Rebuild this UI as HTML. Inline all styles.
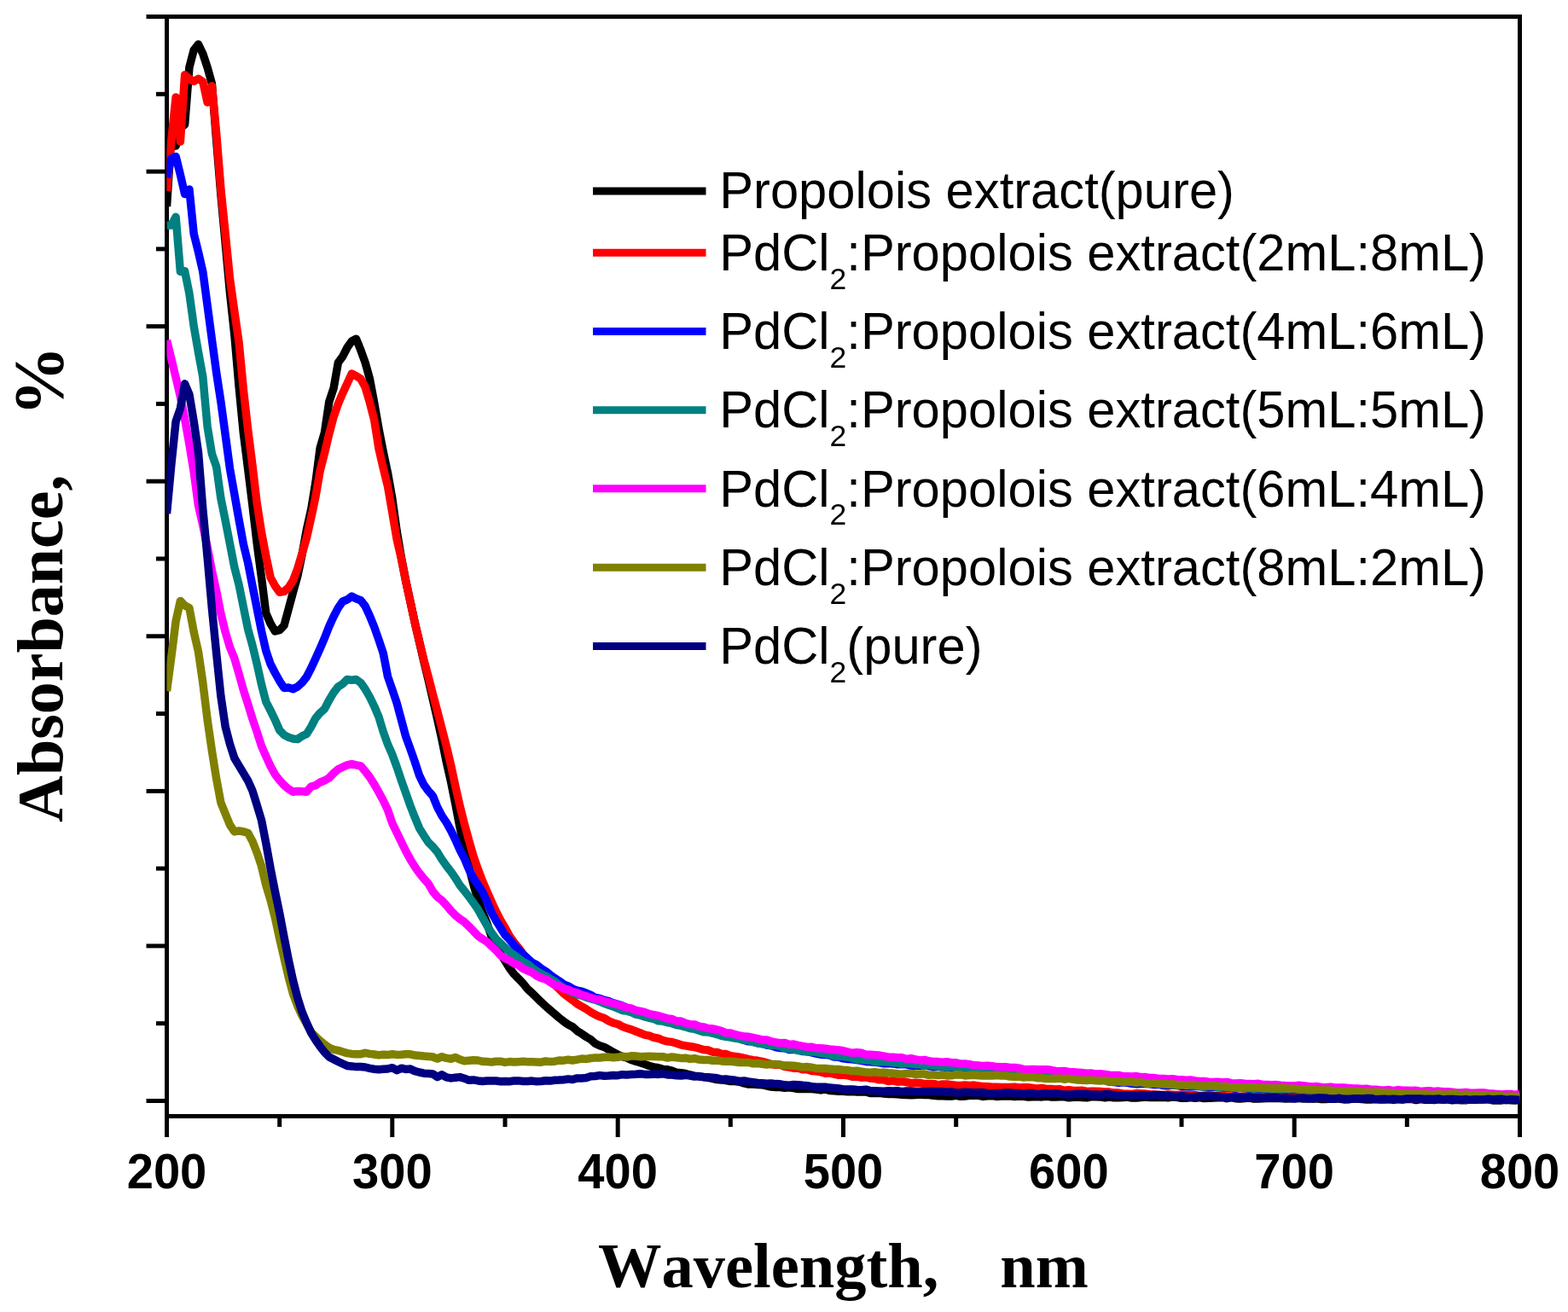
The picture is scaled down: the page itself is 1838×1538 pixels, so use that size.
<!DOCTYPE html>
<html lang="en"><head><meta charset="utf-8"><title>UV-Vis absorbance spectra</title>
<style>
html,body{margin:0;padding:0;background:#fff;}
body{width:1838px;height:1538px;overflow:hidden;}
svg{display:block;}
.tick{font-family:"Liberation Sans",Arial,sans-serif;font-weight:bold;font-size:57px;fill:#000;text-anchor:middle;}
.leg{font-family:"Liberation Sans",Arial,sans-serif;font-size:59.7px;fill:#000;}
.sub{font-size:35.5px;}
.ttl{font-family:"Liberation Serif","Times New Roman",serif;font-weight:bold;font-size:76px;fill:#000;}
</style></head><body>
<svg width="1838" height="1538" viewBox="0 0 1838 1538">
<rect width="1838" height="1538" fill="#fff"/>
<g stroke="#000" stroke-width="5" fill="none" stroke-linecap="butt">
<path d="M171.5,19.5 H1781.5"/>
<path d="M195.5,17 V1333"/>
<path d="M1781.5,17 V1333"/>
<path d="M193,1308.5 H1784"/>
<path d="M171.5,201.1 H195.5"/>
<path d="M171.5,382.6 H195.5"/>
<path d="M171.5,564.2 H195.5"/>
<path d="M171.5,745.8 H195.5"/>
<path d="M171.5,927.4 H195.5"/>
<path d="M171.5,1108.9 H195.5"/>
<path d="M171.5,1290.5 H195.5"/>
<path d="M183,110.3 H195.5"/>
<path d="M183,291.9 H195.5"/>
<path d="M183,473.4 H195.5"/>
<path d="M183,655.0 H195.5"/>
<path d="M183,836.6 H195.5"/>
<path d="M183,1018.1 H195.5"/>
<path d="M183,1199.7 H195.5"/>
<path d="M459.8,1308.5 V1333"/>
<path d="M724.2,1308.5 V1333"/>
<path d="M988.5,1308.5 V1333"/>
<path d="M1252.8,1308.5 V1333"/>
<path d="M1517.2,1308.5 V1333"/>
<path d="M327.7,1308.5 V1321"/>
<path d="M592.0,1308.5 V1321"/>
<path d="M856.3,1308.5 V1321"/>
<path d="M1120.7,1308.5 V1321"/>
<path d="M1385.0,1308.5 V1321"/>
<path d="M1649.3,1308.5 V1321"/>
</g>
<defs><clipPath id="plot"><rect x="195.5" y="19.5" width="1586" height="1289"/></clipPath></defs>
<g fill="none" stroke-width="9.5" stroke-linejoin="round" stroke-linecap="butt" clip-path="url(#plot)">
<path stroke="#000000" d="M195.5,242.0 L200.8,160.0 L206.1,171.0 L211.4,150.0 L216.6,146.0 L221.9,79.0 L227.2,58.6 L232.5,52.0 L237.8,63.0 L243.1,79.0 L248.4,98.0 L253.7,165.0 L258.9,228.0 L264.2,285.0 L269.5,343.0 L274.8,392.0 L280.1,453.0 L285.4,508.0 L290.7,550.0 L295.9,592.0 L301.2,637.0 L306.5,677.0 L311.8,719.0 L317.1,731.0 L322.4,740.0 L327.7,738.7 L333.0,733.2 L338.2,714.0 L343.5,694.2 L348.8,675.2 L354.1,650.0 L359.4,621.0 L364.7,597.4 L370.0,565.0 L375.2,525.0 L380.5,507.0 L385.8,471.0 L391.1,455.0 L396.4,425.0 L401.7,417.9 L407.0,407.5 L412.3,399.9 L417.5,397.2 L422.8,410.3 L428.1,425.0 L433.4,444.0 L438.7,472.3 L444.0,502.8 L449.3,530.0 L454.5,554.4 L459.8,584.3 L465.1,622.4 L470.4,653.7 L475.7,681.0 L481.0,705.5 L486.3,729.9 L491.6,752.6 L496.8,775.1 L502.1,796.9 L507.4,820.0 L512.7,843.0 L518.0,867.1 L523.3,893.3 L528.6,916.5 L533.8,942.3 L539.1,970.0 L544.4,993.9 L549.7,1016.4 L555.0,1036.8 L560.3,1054.9 L565.6,1069.3 L570.9,1082.6 L576.1,1097.6 L581.4,1110.0 L586.7,1118.3 L592.0,1126.3 L597.3,1135.1 L602.6,1142.0 L607.9,1147.3 L613.1,1152.8 L618.4,1159.4 L623.7,1164.1 L629.0,1169.3 L634.3,1174.6 L639.6,1179.5 L644.9,1184.1 L650.2,1188.6 L655.4,1193.1 L660.7,1197.3 L666.0,1201.0 L671.3,1203.8 L676.6,1208.6 L681.9,1211.8 L687.2,1215.5 L692.4,1218.5 L697.7,1223.2 L703.0,1225.7 L708.3,1227.4 L713.6,1230.4 L718.9,1233.6 L724.2,1236.3 L729.5,1238.6 L734.7,1239.9 L740.0,1242.5 L745.3,1244.2 L750.6,1245.7 L755.9,1247.6 L761.2,1249.5 L766.5,1250.9 L771.7,1251.8 L777.0,1253.4 L782.3,1253.8 L787.6,1255.2 L792.9,1257.1 L798.2,1257.7 L803.5,1258.5 L808.8,1260.0 L814.0,1261.1 L819.3,1261.9 L824.6,1262.4 L829.9,1263.4 L835.2,1264.3 L840.5,1265.5 L845.8,1265.9 L851.0,1266.6 L856.3,1267.5 L861.6,1267.5 L866.9,1268.3 L872.2,1269.9 L877.5,1271.0 L882.8,1271.1 L888.1,1271.5 L893.3,1271.7 L898.6,1272.8 L903.9,1274.1 L909.2,1274.4 L914.5,1274.5 L919.8,1275.3 L925.1,1274.8 L930.3,1275.6 L935.6,1276.6 L940.9,1276.4 L946.2,1276.5 L951.5,1276.5 L956.8,1277.1 L962.1,1277.9 L967.4,1276.9 L972.6,1278.4 L977.9,1278.8 L983.2,1279.2 L988.5,1279.3 L993.8,1279.7 L999.1,1279.6 L1004.4,1280.0 L1009.6,1280.1 L1014.9,1279.9 L1020.2,1281.4 L1025.5,1281.4 L1030.8,1281.3 L1036.1,1282.1 L1041.4,1282.5 L1046.7,1282.5 L1051.9,1282.7 L1057.2,1283.2 L1062.5,1283.5 L1067.8,1283.7 L1073.1,1283.6 L1078.4,1283.1 L1083.7,1283.5 L1088.9,1283.6 L1094.2,1284.3 L1099.5,1284.8 L1104.8,1284.8 L1110.1,1284.9 L1115.4,1285.0 L1120.7,1284.3 L1126.0,1285.2 L1131.2,1285.0 L1136.5,1284.3 L1141.8,1284.2 L1147.1,1284.3 L1152.4,1285.4 L1157.7,1284.8 L1163.0,1284.6 L1168.2,1285.4 L1173.5,1285.1 L1178.8,1284.8 L1184.1,1284.9 L1189.4,1285.5 L1194.7,1285.1 L1200.0,1285.3 L1205.3,1286.0 L1210.5,1285.7 L1215.8,1285.6 L1221.1,1285.9 L1226.4,1285.3 L1231.7,1285.9 L1237.0,1286.0 L1242.3,1285.7 L1247.5,1285.6 L1252.8,1286.8 L1258.1,1286.2 L1263.4,1285.9 L1268.7,1286.4 L1274.0,1286.8 L1279.3,1285.7 L1284.6,1285.7 L1289.8,1285.9 L1295.1,1286.7 L1300.4,1286.0 L1305.7,1286.8 L1311.0,1286.7 L1316.3,1286.5 L1321.6,1286.1 L1326.8,1287.1 L1332.1,1286.9 L1337.4,1286.5 L1342.7,1286.0 L1348.0,1286.6 L1353.3,1286.3 L1358.6,1286.5 L1363.9,1286.2 L1369.1,1286.7 L1374.4,1285.9 L1379.7,1286.3 L1385.0,1287.3 L1390.3,1287.2 L1395.6,1286.5 L1400.9,1287.3 L1406.1,1286.6 L1411.4,1287.5 L1416.7,1287.3 L1422.0,1286.9 L1427.3,1286.7 L1432.6,1286.4 L1437.9,1287.7 L1443.2,1286.6 L1448.4,1287.7 L1453.7,1287.9 L1459.0,1287.4 L1464.3,1286.9 L1469.6,1288.0 L1474.9,1288.1 L1480.2,1287.8 L1485.4,1287.6 L1490.7,1287.4 L1496.0,1287.4 L1501.3,1287.3 L1506.6,1288.0 L1511.9,1287.7 L1517.2,1287.4 L1522.5,1287.3 L1527.7,1288.1 L1533.0,1287.6 L1538.3,1288.0 L1543.6,1287.8 L1548.9,1288.6 L1554.2,1288.6 L1559.5,1287.4 L1564.7,1287.7 L1570.0,1288.0 L1575.3,1288.9 L1580.6,1288.7 L1585.9,1288.1 L1591.2,1288.0 L1596.5,1288.6 L1601.8,1288.9 L1607.0,1289.1 L1612.3,1288.3 L1617.6,1289.1 L1622.9,1288.9 L1628.2,1288.6 L1633.5,1289.4 L1638.8,1288.3 L1644.0,1289.1 L1649.3,1288.2 L1654.6,1288.4 L1659.9,1289.5 L1665.2,1288.5 L1670.5,1289.3 L1675.8,1289.1 L1681.1,1289.5 L1686.3,1288.9 L1691.6,1288.9 L1696.9,1288.8 L1702.2,1289.7 L1707.5,1289.3 L1712.8,1289.8 L1718.1,1289.8 L1723.3,1288.8 L1728.6,1289.4 L1733.9,1288.8 L1739.2,1288.7 L1744.5,1288.8 L1749.8,1289.9 L1755.1,1289.9 L1760.4,1289.9 L1765.6,1289.3 L1770.9,1289.7 L1776.2,1290.0 L1781.5,1289.4"/>
<path stroke="#ff0000" d="M195.5,224.0 L200.8,165.0 L206.1,114.0 L211.4,166.0 L216.6,87.8 L221.9,92.4 L227.2,95.3 L232.5,92.4 L237.8,95.7 L243.1,120.0 L248.4,100.8 L253.7,157.0 L258.9,222.0 L264.2,274.0 L269.5,327.0 L274.8,365.0 L280.1,401.5 L285.4,457.0 L290.7,504.0 L295.9,545.0 L301.2,590.0 L306.5,624.0 L311.8,652.0 L317.1,677.0 L322.4,686.7 L327.7,694.2 L333.0,693.3 L338.2,688.8 L343.5,680.6 L348.8,666.3 L354.1,649.0 L359.4,630.6 L364.7,607.0 L370.0,582.0 L375.2,551.7 L380.5,531.0 L385.8,508.7 L391.1,488.6 L396.4,473.4 L401.7,460.9 L407.0,449.4 L412.3,438.0 L417.5,440.7 L422.8,444.0 L428.1,453.8 L433.4,471.7 L438.7,492.4 L444.0,526.0 L449.3,549.0 L454.5,570.0 L459.8,600.7 L465.1,632.0 L470.4,655.0 L475.7,681.5 L481.0,705.5 L486.3,730.1 L491.6,752.1 L496.8,773.4 L502.1,793.2 L507.4,814.0 L512.7,833.7 L518.0,854.2 L523.3,874.8 L528.6,897.1 L533.8,921.6 L539.1,944.7 L544.4,965.9 L549.7,985.3 L555.0,1003.7 L560.3,1019.0 L565.6,1033.0 L570.9,1045.2 L576.1,1056.9 L581.4,1068.4 L586.7,1078.7 L592.0,1087.4 L597.3,1097.2 L602.6,1104.7 L607.9,1111.2 L613.1,1118.1 L618.4,1125.5 L623.7,1131.2 L629.0,1137.4 L634.3,1142.4 L639.6,1146.8 L644.9,1151.1 L650.2,1154.5 L655.4,1159.4 L660.7,1164.7 L666.0,1168.7 L671.3,1172.6 L676.6,1176.8 L681.9,1179.8 L687.2,1182.9 L692.4,1186.4 L697.7,1189.4 L703.0,1191.8 L708.3,1193.6 L713.6,1196.9 L718.9,1199.2 L724.2,1200.5 L729.5,1203.4 L734.7,1205.3 L740.0,1206.9 L745.3,1209.0 L750.6,1211.0 L755.9,1213.2 L761.2,1214.2 L766.5,1216.3 L771.7,1217.2 L777.0,1219.5 L782.3,1220.9 L787.6,1221.5 L792.9,1223.0 L798.2,1224.8 L803.5,1225.8 L808.8,1226.7 L814.0,1227.5 L819.3,1228.9 L824.6,1230.6 L829.9,1231.0 L835.2,1233.2 L840.5,1233.4 L845.8,1235.4 L851.0,1235.6 L856.3,1237.6 L861.6,1238.4 L866.9,1239.2 L872.2,1240.3 L877.5,1241.6 L882.8,1242.6 L888.1,1243.3 L893.3,1244.3 L898.6,1245.8 L903.9,1247.5 L909.2,1248.2 L914.5,1248.3 L919.8,1250.2 L925.1,1251.0 L930.3,1252.2 L935.6,1252.1 L940.9,1253.7 L946.2,1253.7 L951.5,1255.4 L956.8,1255.8 L962.1,1256.6 L967.4,1258.2 L972.6,1257.8 L977.9,1259.1 L983.2,1260.3 L988.5,1260.1 L993.8,1260.7 L999.1,1262.2 L1004.4,1262.2 L1009.6,1263.2 L1014.9,1262.8 L1020.2,1264.0 L1025.5,1264.4 L1030.8,1265.8 L1036.1,1265.7 L1041.4,1267.6 L1046.7,1266.8 L1051.9,1268.2 L1057.2,1267.7 L1062.5,1268.5 L1067.8,1269.7 L1073.1,1269.2 L1078.4,1269.5 L1083.7,1270.6 L1088.9,1270.5 L1094.2,1270.4 L1099.5,1271.9 L1104.8,1270.9 L1110.1,1271.0 L1115.4,1271.6 L1120.7,1272.2 L1126.0,1272.5 L1131.2,1271.9 L1136.5,1272.4 L1141.8,1272.1 L1147.1,1272.9 L1152.4,1273.6 L1157.7,1273.7 L1163.0,1274.2 L1168.2,1274.2 L1173.5,1274.5 L1178.8,1274.5 L1184.1,1274.4 L1189.4,1274.2 L1194.7,1275.0 L1200.0,1274.7 L1205.3,1274.7 L1210.5,1275.4 L1215.8,1276.3 L1221.1,1275.5 L1226.4,1276.4 L1231.7,1276.5 L1237.0,1277.0 L1242.3,1276.8 L1247.5,1278.3 L1252.8,1277.7 L1258.1,1278.5 L1263.4,1278.6 L1268.7,1278.3 L1274.0,1279.4 L1279.3,1279.2 L1284.6,1279.3 L1289.8,1279.5 L1295.1,1279.9 L1300.4,1280.1 L1305.7,1281.1 L1311.0,1281.1 L1316.3,1282.0 L1321.6,1282.2 L1326.8,1282.5 L1332.1,1281.6 L1337.4,1282.1 L1342.7,1282.1 L1348.0,1282.7 L1353.3,1283.0 L1358.6,1283.4 L1363.9,1283.4 L1369.1,1282.9 L1374.4,1283.3 L1379.7,1283.6 L1385.0,1283.0 L1390.3,1283.2 L1395.6,1283.9 L1400.9,1283.6 L1406.1,1284.7 L1411.4,1284.1 L1416.7,1284.0 L1422.0,1284.3 L1427.3,1284.4 L1432.6,1284.5 L1437.9,1285.0 L1443.2,1285.1 L1448.4,1284.9 L1453.7,1285.5 L1459.0,1285.0 L1464.3,1286.1 L1469.6,1286.2 L1474.9,1286.0 L1480.2,1285.6 L1485.4,1285.8 L1490.7,1286.0 L1496.0,1285.4 L1501.3,1285.9 L1506.6,1286.2 L1511.9,1285.8 L1517.2,1285.7 L1522.5,1286.8 L1527.7,1286.3 L1533.0,1286.5 L1538.3,1287.2 L1543.6,1286.8 L1548.9,1286.4 L1554.2,1287.5 L1559.5,1286.7 L1564.7,1286.3 L1570.0,1287.3 L1575.3,1286.5 L1580.6,1286.8 L1585.9,1287.6 L1591.2,1287.4 L1596.5,1286.6 L1601.8,1287.2 L1607.0,1287.2 L1612.3,1287.4 L1617.6,1287.0 L1622.9,1287.6 L1628.2,1287.0 L1633.5,1287.3 L1638.8,1287.5 L1644.0,1288.3 L1649.3,1287.2 L1654.6,1288.2 L1659.9,1287.4 L1665.2,1288.0 L1670.5,1287.8 L1675.8,1287.9 L1681.1,1288.4 L1686.3,1287.9 L1691.6,1287.6 L1696.9,1287.6 L1702.2,1287.6 L1707.5,1288.7 L1712.8,1288.4 L1718.1,1288.9 L1723.3,1288.5 L1728.6,1287.6 L1733.9,1288.6 L1739.2,1288.7 L1744.5,1288.7 L1749.8,1288.4 L1755.1,1288.3 L1760.4,1288.4 L1765.6,1288.9 L1770.9,1288.2 L1776.2,1288.6 L1781.5,1288.6"/>
<path stroke="#0000ff" d="M195.5,208.0 L200.8,186.1 L206.1,183.5 L211.4,204.8 L216.6,227.5 L221.9,222.0 L227.2,274.1 L232.5,295.3 L237.8,318.5 L243.1,358.0 L248.4,398.0 L253.7,437.0 L258.9,471.0 L264.2,510.0 L269.5,549.5 L274.8,579.4 L280.1,609.4 L285.4,638.2 L290.7,660.0 L295.9,686.7 L301.2,713.2 L306.5,739.8 L311.8,762.9 L317.1,778.5 L322.4,788.7 L327.7,798.3 L333.0,806.4 L338.2,806.1 L343.5,807.8 L348.8,805.0 L354.1,800.3 L359.4,793.5 L364.7,783.3 L370.0,771.7 L375.2,760.2 L380.5,747.9 L385.8,734.3 L391.1,722.8 L396.4,712.6 L401.7,705.0 L407.0,703.0 L412.3,699.0 L417.5,701.7 L422.8,703.7 L428.1,710.5 L433.4,722.0 L438.7,735.0 L444.0,750.0 L449.3,766.0 L454.5,793.0 L459.8,808.3 L465.1,824.0 L470.4,843.7 L475.7,863.4 L481.0,878.0 L486.3,893.0 L491.6,909.2 L496.8,919.9 L502.1,927.1 L507.4,933.1 L512.7,946.2 L518.0,956.4 L523.3,964.1 L528.6,973.6 L533.8,984.3 L539.1,996.3 L544.4,1006.5 L549.7,1019.2 L555.0,1029.6 L560.3,1037.2 L565.6,1045.5 L570.9,1057.0 L576.1,1069.5 L581.4,1079.0 L586.7,1087.5 L592.0,1096.0 L597.3,1101.4 L602.6,1108.2 L607.9,1113.6 L613.1,1118.9 L618.4,1123.4 L623.7,1128.3 L629.0,1131.0 L634.3,1135.3 L639.6,1138.5 L644.9,1142.8 L650.2,1146.6 L655.4,1149.9 L660.7,1153.9 L666.0,1155.9 L671.3,1159.1 L676.6,1161.1 L681.9,1162.1 L687.2,1164.2 L692.4,1166.3 L697.7,1169.5 L703.0,1170.5 L708.3,1172.5 L713.6,1173.7 L718.9,1175.8 L724.2,1177.3 L729.5,1179.1 L734.7,1181.2 L740.0,1183.0 L745.3,1185.3 L750.6,1186.8 L755.9,1188.6 L761.2,1190.0 L766.5,1191.7 L771.7,1192.7 L777.0,1193.5 L782.3,1196.1 L787.6,1197.9 L792.9,1199.4 L798.2,1200.5 L803.5,1202.3 L808.8,1203.0 L814.0,1205.3 L819.3,1206.3 L824.6,1207.3 L829.9,1208.4 L835.2,1210.8 L840.5,1212.3 L845.8,1212.3 L851.0,1214.6 L856.3,1215.4 L861.6,1216.2 L866.9,1217.6 L872.2,1219.5 L877.5,1220.8 L882.8,1220.9 L888.1,1222.8 L893.3,1223.1 L898.6,1225.1 L903.9,1225.7 L909.2,1227.5 L914.5,1228.6 L919.8,1228.8 L925.1,1230.4 L930.3,1230.3 L935.6,1230.9 L940.9,1232.5 L946.2,1232.6 L951.5,1233.8 L956.8,1235.0 L962.1,1236.2 L967.4,1236.4 L972.6,1237.1 L977.9,1239.1 L983.2,1239.2 L988.5,1240.9 L993.8,1241.6 L999.1,1241.7 L1004.4,1242.6 L1009.6,1243.4 L1014.9,1244.4 L1020.2,1244.8 L1025.5,1245.2 L1030.8,1245.8 L1036.1,1246.7 L1041.4,1246.6 L1046.7,1246.9 L1051.9,1247.7 L1057.2,1247.4 L1062.5,1247.8 L1067.8,1249.2 L1073.1,1248.9 L1078.4,1249.2 L1083.7,1248.8 L1088.9,1249.7 L1094.2,1250.3 L1099.5,1249.9 L1104.8,1251.1 L1110.1,1251.5 L1115.4,1251.0 L1120.7,1252.2 L1126.0,1252.2 L1131.2,1252.7 L1136.5,1252.4 L1141.8,1253.1 L1147.1,1253.3 L1152.4,1252.6 L1157.7,1252.9 L1163.0,1254.0 L1168.2,1254.6 L1173.5,1253.9 L1178.8,1254.4 L1184.1,1254.8 L1189.4,1254.7 L1194.7,1255.0 L1200.0,1255.2 L1205.3,1255.6 L1210.5,1256.2 L1215.8,1256.1 L1221.1,1256.5 L1226.4,1257.4 L1231.7,1256.8 L1237.0,1258.1 L1242.3,1258.8 L1247.5,1258.7 L1252.8,1259.1 L1258.1,1260.8 L1263.4,1260.9 L1268.7,1261.8 L1274.0,1263.0 L1279.3,1264.3 L1284.6,1264.3 L1289.8,1265.6 L1295.1,1266.5 L1300.4,1268.1 L1305.7,1268.4 L1311.0,1269.4 L1316.3,1268.8 L1321.6,1269.4 L1326.8,1270.2 L1332.1,1270.8 L1337.4,1270.5 L1342.7,1270.5 L1348.0,1270.7 L1353.3,1271.5 L1358.6,1271.4 L1363.9,1272.5 L1369.1,1272.8 L1374.4,1272.1 L1379.7,1272.5 L1385.0,1273.4 L1390.3,1273.4 L1395.6,1273.9 L1400.9,1273.5 L1406.1,1273.4 L1411.4,1273.9 L1416.7,1274.8 L1422.0,1274.3 L1427.3,1274.6 L1432.6,1275.0 L1437.9,1275.2 L1443.2,1275.3 L1448.4,1276.2 L1453.7,1275.2 L1459.0,1275.2 L1464.3,1276.6 L1469.6,1276.7 L1474.9,1277.0 L1480.2,1276.3 L1485.4,1277.2 L1490.7,1277.3 L1496.0,1276.5 L1501.3,1277.4 L1506.6,1277.7 L1511.9,1277.6 L1517.2,1277.5 L1522.5,1277.4 L1527.7,1277.7 L1533.0,1277.7 L1538.3,1277.7 L1543.6,1278.6 L1548.9,1278.4 L1554.2,1279.3 L1559.5,1278.5 L1564.7,1279.9 L1570.0,1279.8 L1575.3,1280.3 L1580.6,1280.5 L1585.9,1280.7 L1591.2,1280.4 L1596.5,1279.8 L1601.8,1281.0 L1607.0,1280.4 L1612.3,1280.8 L1617.6,1281.5 L1622.9,1281.5 L1628.2,1281.5 L1633.5,1282.4 L1638.8,1282.1 L1644.0,1281.9 L1649.3,1281.9 L1654.6,1282.9 L1659.9,1282.5 L1665.2,1283.1 L1670.5,1282.6 L1675.8,1282.6 L1681.1,1283.2 L1686.3,1283.7 L1691.6,1282.9 L1696.9,1283.9 L1702.2,1284.2 L1707.5,1284.1 L1712.8,1284.3 L1718.1,1283.3 L1723.3,1284.3 L1728.6,1284.7 L1733.9,1283.7 L1739.2,1284.2 L1744.5,1284.4 L1749.8,1285.0 L1755.1,1285.0 L1760.4,1285.2 L1765.6,1285.8 L1770.9,1284.9 L1776.2,1285.2 L1781.5,1285.5"/>
<path stroke="#008080" d="M195.5,264.3 L200.8,264.0 L206.1,254.3 L211.4,318.5 L216.6,317.7 L221.9,344.0 L227.2,382.4 L232.5,412.9 L237.8,441.7 L243.1,500.0 L248.4,532.0 L253.7,547.4 L258.9,584.3 L264.2,610.4 L269.5,637.6 L274.8,665.0 L280.1,685.6 L285.4,711.9 L290.7,737.7 L295.9,756.5 L301.2,778.5 L306.5,802.3 L311.8,822.7 L317.1,833.0 L322.4,843.8 L327.7,856.0 L333.0,861.6 L338.2,864.3 L343.5,866.0 L348.8,866.6 L354.1,862.9 L359.4,860.5 L364.7,852.0 L370.0,841.8 L375.2,835.7 L380.5,830.9 L385.8,820.7 L391.1,811.9 L396.4,805.0 L401.7,801.7 L407.0,796.5 L412.3,797.2 L417.5,796.5 L422.8,800.3 L428.1,807.8 L433.4,817.0 L438.7,828.0 L444.0,840.3 L449.3,858.0 L454.5,872.3 L459.8,884.5 L465.1,899.0 L470.4,914.7 L475.7,929.6 L481.0,944.6 L486.3,958.2 L491.6,970.9 L496.8,979.3 L502.1,987.3 L507.4,992.7 L512.7,998.9 L518.0,1007.6 L523.3,1015.0 L528.6,1021.8 L533.8,1029.2 L539.1,1037.9 L544.4,1044.3 L549.7,1051.2 L555.0,1058.3 L560.3,1066.2 L565.6,1075.6 L570.9,1085.0 L576.1,1093.4 L581.4,1100.6 L586.7,1105.6 L592.0,1110.7 L597.3,1115.8 L602.6,1119.5 L607.9,1123.5 L613.1,1127.4 L618.4,1130.2 L623.7,1134.7 L629.0,1138.2 L634.3,1141.4 L639.6,1144.0 L644.9,1147.5 L650.2,1150.4 L655.4,1154.9 L660.7,1158.2 L666.0,1161.0 L671.3,1163.3 L676.6,1165.9 L681.9,1167.1 L687.2,1169.2 L692.4,1170.8 L697.7,1172.0 L703.0,1174.0 L708.3,1176.3 L713.6,1178.2 L718.9,1179.9 L724.2,1182.2 L729.5,1184.5 L734.7,1185.1 L740.0,1186.7 L745.3,1189.1 L750.6,1190.2 L755.9,1191.9 L761.2,1193.3 L766.5,1194.5 L771.7,1196.8 L777.0,1197.1 L782.3,1198.7 L787.6,1199.7 L792.9,1201.6 L798.2,1202.4 L803.5,1203.8 L808.8,1205.6 L814.0,1206.3 L819.3,1208.0 L824.6,1209.8 L829.9,1209.9 L835.2,1211.1 L840.5,1212.5 L845.8,1214.4 L851.0,1215.4 L856.3,1216.0 L861.6,1217.1 L866.9,1217.9 L872.2,1219.3 L877.5,1219.7 L882.8,1221.6 L888.1,1222.8 L893.3,1223.8 L898.6,1224.4 L903.9,1225.7 L909.2,1225.3 L914.5,1226.7 L919.8,1228.7 L925.1,1229.4 L930.3,1229.9 L935.6,1231.6 L940.9,1231.9 L946.2,1233.0 L951.5,1233.0 L956.8,1233.6 L962.1,1234.7 L967.4,1235.2 L972.6,1236.4 L977.9,1238.1 L983.2,1238.2 L988.5,1238.6 L993.8,1239.4 L999.1,1240.4 L1004.4,1242.0 L1009.6,1242.2 L1014.9,1242.9 L1020.2,1243.1 L1025.5,1244.8 L1030.8,1244.5 L1036.1,1244.7 L1041.4,1245.0 L1046.7,1245.4 L1051.9,1245.9 L1057.2,1247.0 L1062.5,1246.6 L1067.8,1246.9 L1073.1,1247.8 L1078.4,1247.8 L1083.7,1249.2 L1088.9,1248.3 L1094.2,1249.2 L1099.5,1249.9 L1104.8,1249.8 L1110.1,1251.0 L1115.4,1250.6 L1120.7,1250.6 L1126.0,1251.1 L1131.2,1250.8 L1136.5,1251.5 L1141.8,1251.4 L1147.1,1252.5 L1152.4,1252.7 L1157.7,1252.5 L1163.0,1252.1 L1168.2,1252.6 L1173.5,1252.8 L1178.8,1253.0 L1184.1,1253.3 L1189.4,1254.4 L1194.7,1253.6 L1200.0,1253.7 L1205.3,1255.2 L1210.5,1254.9 L1215.8,1255.8 L1221.1,1255.2 L1226.4,1256.2 L1231.7,1256.3 L1237.0,1257.0 L1242.3,1257.4 L1247.5,1257.5 L1252.8,1257.4 L1258.1,1258.4 L1263.4,1260.1 L1268.7,1261.0 L1274.0,1261.8 L1279.3,1261.8 L1284.6,1263.0 L1289.8,1264.0 L1295.1,1264.6 L1300.4,1265.6 L1305.7,1266.0 L1311.0,1266.7 L1316.3,1267.2 L1321.6,1267.0 L1326.8,1268.4 L1332.1,1268.9 L1337.4,1268.1 L1342.7,1269.8 L1348.0,1270.2 L1353.3,1270.3 L1358.6,1269.9 L1363.9,1271.4 L1369.1,1270.6 L1374.4,1272.1 L1379.7,1271.9 L1385.0,1271.4 L1390.3,1271.8 L1395.6,1272.8 L1400.9,1273.0 L1406.1,1273.5 L1411.4,1274.1 L1416.7,1273.3 L1422.0,1273.2 L1427.3,1274.7 L1432.6,1273.6 L1437.9,1275.0 L1443.2,1274.2 L1448.4,1275.3 L1453.7,1275.5 L1459.0,1275.8 L1464.3,1275.6 L1469.6,1276.2 L1474.9,1275.4 L1480.2,1276.2 L1485.4,1275.9 L1490.7,1276.8 L1496.0,1276.8 L1501.3,1276.5 L1506.6,1276.7 L1511.9,1276.2 L1517.2,1276.3 L1522.5,1277.3 L1527.7,1277.4 L1533.0,1278.1 L1538.3,1278.0 L1543.6,1277.5 L1548.9,1278.0 L1554.2,1278.8 L1559.5,1278.6 L1564.7,1278.1 L1570.0,1279.5 L1575.3,1279.7 L1580.6,1278.8 L1585.9,1279.7 L1591.2,1279.6 L1596.5,1280.4 L1601.8,1279.9 L1607.0,1280.0 L1612.3,1280.6 L1617.6,1281.5 L1622.9,1280.4 L1628.2,1280.6 L1633.5,1281.5 L1638.8,1282.0 L1644.0,1281.7 L1649.3,1281.8 L1654.6,1282.5 L1659.9,1282.6 L1665.2,1281.8 L1670.5,1283.1 L1675.8,1282.3 L1681.1,1282.6 L1686.3,1283.4 L1691.6,1283.0 L1696.9,1283.6 L1702.2,1282.9 L1707.5,1284.0 L1712.8,1283.2 L1718.1,1283.2 L1723.3,1283.9 L1728.6,1283.8 L1733.9,1284.2 L1739.2,1284.9 L1744.5,1284.8 L1749.8,1284.0 L1755.1,1284.6 L1760.4,1285.1 L1765.6,1285.2 L1770.9,1285.7 L1776.2,1285.6 L1781.5,1285.2"/>
<path stroke="#ff00ff" d="M195.5,399.0 L200.8,420.5 L206.1,442.5 L211.4,465.0 L216.6,491.0 L221.9,520.7 L227.2,553.3 L232.5,592.5 L237.8,615.9 L243.1,641.5 L248.4,669.0 L253.7,692.8 L258.9,719.4 L264.2,741.0 L269.5,758.8 L274.8,771.7 L280.1,790.0 L285.4,809.0 L290.7,825.5 L295.9,842.5 L301.2,858.0 L306.5,874.5 L311.8,886.7 L317.1,898.3 L322.4,907.8 L327.7,914.6 L333.0,920.5 L338.2,924.8 L343.5,928.2 L348.8,927.5 L354.1,927.8 L359.4,928.2 L364.7,922.0 L370.0,920.7 L375.2,917.0 L380.5,915.0 L385.8,911.9 L391.1,906.4 L396.4,901.7 L401.7,899.2 L407.0,896.9 L412.3,895.6 L417.5,896.9 L422.8,897.9 L428.1,904.1 L433.4,911.0 L438.7,919.4 L444.0,928.7 L449.3,938.5 L454.5,949.4 L459.8,965.0 L465.1,975.9 L470.4,986.8 L475.7,997.7 L481.0,1007.4 L486.3,1016.0 L491.6,1023.6 L496.8,1030.0 L502.1,1035.9 L507.4,1045.1 L512.7,1051.4 L518.0,1055.5 L523.3,1061.2 L528.6,1067.6 L533.8,1073.0 L539.1,1077.3 L544.4,1080.8 L549.7,1086.0 L555.0,1091.4 L560.3,1097.1 L565.6,1100.7 L570.9,1104.0 L576.1,1109.0 L581.4,1113.9 L586.7,1119.8 L592.0,1123.7 L597.3,1125.9 L602.6,1129.6 L607.9,1131.4 L613.1,1135.5 L618.4,1137.8 L623.7,1140.0 L629.0,1143.9 L634.3,1146.4 L639.6,1147.9 L644.9,1151.2 L650.2,1154.5 L655.4,1156.1 L660.7,1159.0 L666.0,1160.1 L671.3,1162.7 L676.6,1163.7 L681.9,1166.3 L687.2,1167.6 L692.4,1169.6 L697.7,1171.1 L703.0,1171.8 L708.3,1173.5 L713.6,1174.8 L718.9,1176.3 L724.2,1177.8 L729.5,1179.5 L734.7,1181.4 L740.0,1182.0 L745.3,1184.3 L750.6,1185.3 L755.9,1186.6 L761.2,1188.7 L766.5,1189.6 L771.7,1190.7 L777.0,1192.3 L782.3,1193.9 L787.6,1194.4 L792.9,1197.0 L798.2,1197.0 L803.5,1199.3 L808.8,1200.8 L814.0,1200.9 L819.3,1203.2 L824.6,1203.9 L829.9,1205.5 L835.2,1205.9 L840.5,1207.1 L845.8,1208.5 L851.0,1210.8 L856.3,1210.9 L861.6,1212.7 L866.9,1214.0 L872.2,1215.1 L877.5,1215.3 L882.8,1216.4 L888.1,1217.6 L893.3,1218.9 L898.6,1218.9 L903.9,1220.8 L909.2,1221.8 L914.5,1222.7 L919.8,1222.4 L925.1,1224.5 L930.3,1224.1 L935.6,1225.3 L940.9,1226.3 L946.2,1227.4 L951.5,1227.2 L956.8,1228.7 L962.1,1228.8 L967.4,1229.2 L972.6,1229.9 L977.9,1230.4 L983.2,1231.0 L988.5,1231.8 L993.8,1233.2 L999.1,1234.3 L1004.4,1233.8 L1009.6,1234.3 L1014.9,1236.3 L1020.2,1236.3 L1025.5,1236.7 L1030.8,1237.1 L1036.1,1238.2 L1041.4,1239.2 L1046.7,1239.2 L1051.9,1239.7 L1057.2,1239.7 L1062.5,1241.4 L1067.8,1240.7 L1073.1,1241.9 L1078.4,1242.9 L1083.7,1242.4 L1088.9,1243.8 L1094.2,1244.6 L1099.5,1244.6 L1104.8,1245.3 L1110.1,1244.8 L1115.4,1245.7 L1120.7,1245.8 L1126.0,1247.2 L1131.2,1246.9 L1136.5,1247.6 L1141.8,1248.8 L1147.1,1249.0 L1152.4,1249.6 L1157.7,1249.3 L1163.0,1249.8 L1168.2,1250.6 L1173.5,1250.7 L1178.8,1250.8 L1184.1,1251.4 L1189.4,1251.5 L1194.7,1252.2 L1200.0,1253.5 L1205.3,1253.7 L1210.5,1253.6 L1215.8,1253.7 L1221.1,1253.8 L1226.4,1253.7 L1231.7,1254.3 L1237.0,1255.4 L1242.3,1255.8 L1247.5,1255.5 L1252.8,1256.4 L1258.1,1256.8 L1263.4,1257.2 L1268.7,1257.6 L1274.0,1258.2 L1279.3,1258.1 L1284.6,1259.0 L1289.8,1258.8 L1295.1,1259.5 L1300.4,1260.3 L1305.7,1260.6 L1311.0,1260.4 L1316.3,1261.7 L1321.6,1261.7 L1326.8,1262.0 L1332.1,1261.6 L1337.4,1262.7 L1342.7,1262.6 L1348.0,1263.6 L1353.3,1263.6 L1358.6,1264.4 L1363.9,1264.5 L1369.1,1265.0 L1374.4,1264.7 L1379.7,1265.4 L1385.0,1265.8 L1390.3,1266.3 L1395.6,1266.0 L1400.9,1267.0 L1406.1,1267.4 L1411.4,1267.5 L1416.7,1268.2 L1422.0,1268.6 L1427.3,1268.3 L1432.6,1268.7 L1437.9,1268.5 L1443.2,1269.7 L1448.4,1270.1 L1453.7,1269.7 L1459.0,1270.2 L1464.3,1270.5 L1469.6,1270.8 L1474.9,1270.3 L1480.2,1271.4 L1485.4,1271.4 L1490.7,1271.7 L1496.0,1271.6 L1501.3,1272.2 L1506.6,1272.6 L1511.9,1272.7 L1517.2,1273.0 L1522.5,1272.3 L1527.7,1272.7 L1533.0,1273.4 L1538.3,1274.0 L1543.6,1273.6 L1548.9,1274.5 L1554.2,1274.7 L1559.5,1274.1 L1564.7,1275.0 L1570.0,1274.9 L1575.3,1275.0 L1580.6,1275.4 L1585.9,1275.9 L1591.2,1276.1 L1596.5,1276.4 L1601.8,1276.3 L1607.0,1277.2 L1612.3,1277.2 L1617.6,1277.8 L1622.9,1277.9 L1628.2,1277.6 L1633.5,1278.7 L1638.8,1277.6 L1644.0,1278.3 L1649.3,1278.3 L1654.6,1278.6 L1659.9,1278.3 L1665.2,1279.5 L1670.5,1279.0 L1675.8,1278.7 L1681.1,1279.6 L1686.3,1279.1 L1691.6,1279.8 L1696.9,1279.7 L1702.2,1280.2 L1707.5,1280.9 L1712.8,1280.9 L1718.1,1280.5 L1723.3,1281.3 L1728.6,1281.2 L1733.9,1281.0 L1739.2,1280.9 L1744.5,1281.7 L1749.8,1281.9 L1755.1,1282.6 L1760.4,1282.9 L1765.6,1282.6 L1770.9,1282.4 L1776.2,1283.4 L1781.5,1282.3"/>
<path stroke="#808000" d="M195.5,810.0 L200.8,770.4 L206.1,728.2 L211.4,704.4 L216.6,709.8 L221.9,712.6 L227.2,740.9 L232.5,764.0 L237.8,800.3 L243.1,843.5 L248.4,880.0 L253.7,913.2 L258.9,941.0 L264.2,954.0 L269.5,967.0 L274.8,974.9 L280.1,974.0 L285.4,974.9 L290.7,976.5 L295.9,986.0 L301.2,999.6 L306.5,1015.3 L311.8,1037.7 L317.1,1055.0 L322.4,1075.8 L327.7,1100.3 L333.0,1122.8 L338.2,1145.2 L343.5,1165.0 L348.8,1179.2 L354.1,1190.8 L359.4,1200.3 L364.7,1209.8 L370.0,1215.3 L375.2,1220.0 L380.5,1224.4 L385.8,1228.2 L391.1,1230.4 L396.4,1231.4 L401.7,1233.0 L407.0,1234.6 L412.3,1235.4 L417.5,1235.8 L422.8,1235.7 L428.1,1234.3 L433.4,1235.4 L438.7,1236.0 L444.0,1236.9 L449.3,1236.2 L454.5,1236.6 L459.8,1235.8 L465.1,1236.4 L470.4,1236.2 L475.7,1235.7 L481.0,1235.8 L486.3,1237.1 L491.6,1237.6 L496.8,1238.1 L502.1,1238.4 L507.4,1239.0 L512.7,1241.1 L518.0,1238.7 L523.3,1240.4 L528.6,1241.2 L533.8,1239.4 L539.1,1242.1 L544.4,1243.8 L549.7,1243.3 L555.0,1242.8 L560.3,1243.0 L565.6,1244.3 L570.9,1244.5 L576.1,1245.1 L581.4,1244.2 L586.7,1244.2 L592.0,1245.4 L597.3,1244.6 L602.6,1245.1 L607.9,1244.7 L613.1,1244.3 L618.4,1244.7 L623.7,1244.8 L629.0,1244.9 L634.3,1245.2 L639.6,1244.0 L644.9,1244.6 L650.2,1244.2 L655.4,1243.1 L660.7,1243.2 L666.0,1242.2 L671.3,1243.0 L676.6,1242.1 L681.9,1241.1 L687.2,1241.4 L692.4,1240.5 L697.7,1239.9 L703.0,1240.0 L708.3,1239.3 L713.6,1239.1 L718.9,1239.8 L724.2,1239.3 L729.5,1238.1 L734.7,1239.0 L740.0,1237.8 L745.3,1238.0 L750.6,1238.7 L755.9,1238.5 L761.2,1238.3 L766.5,1238.6 L771.7,1238.8 L777.0,1238.7 L782.3,1240.1 L787.6,1239.0 L792.9,1239.8 L798.2,1240.4 L803.5,1240.2 L808.8,1241.4 L814.0,1240.7 L819.3,1242.1 L824.6,1242.4 L829.9,1242.4 L835.2,1243.2 L840.5,1243.0 L845.8,1243.9 L851.0,1244.3 L856.3,1244.3 L861.6,1244.7 L866.9,1245.5 L872.2,1245.5 L877.5,1245.5 L882.8,1246.8 L888.1,1246.5 L893.3,1247.2 L898.6,1248.0 L903.9,1247.5 L909.2,1247.6 L914.5,1248.1 L919.8,1249.1 L925.1,1249.1 L930.3,1249.3 L935.6,1249.9 L940.9,1251.1 L946.2,1250.6 L951.5,1251.3 L956.8,1252.4 L962.1,1252.5 L967.4,1252.4 L972.6,1253.1 L977.9,1253.6 L983.2,1253.6 L988.5,1254.3 L993.8,1254.6 L999.1,1255.6 L1004.4,1255.3 L1009.6,1256.2 L1014.9,1257.0 L1020.2,1257.2 L1025.5,1256.8 L1030.8,1257.4 L1036.1,1257.3 L1041.4,1257.8 L1046.7,1258.1 L1051.9,1258.8 L1057.2,1259.2 L1062.5,1258.5 L1067.8,1258.3 L1073.1,1259.2 L1078.4,1258.9 L1083.7,1259.1 L1088.9,1260.3 L1094.2,1259.7 L1099.5,1260.5 L1104.8,1260.0 L1110.1,1260.9 L1115.4,1260.8 L1120.7,1259.7 L1126.0,1259.9 L1131.2,1260.9 L1136.5,1260.5 L1141.8,1260.2 L1147.1,1260.7 L1152.4,1260.9 L1157.7,1260.7 L1163.0,1260.9 L1168.2,1260.5 L1173.5,1261.1 L1178.8,1261.1 L1184.1,1262.1 L1189.4,1262.3 L1194.7,1262.0 L1200.0,1263.0 L1205.3,1262.5 L1210.5,1262.7 L1215.8,1263.7 L1221.1,1263.7 L1226.4,1264.6 L1231.7,1264.4 L1237.0,1264.6 L1242.3,1264.0 L1247.5,1265.2 L1252.8,1264.3 L1258.1,1265.3 L1263.4,1266.0 L1268.7,1266.3 L1274.0,1266.5 L1279.3,1266.1 L1284.6,1266.7 L1289.8,1267.1 L1295.1,1266.5 L1300.4,1267.9 L1305.7,1268.1 L1311.0,1267.7 L1316.3,1268.4 L1321.6,1268.2 L1326.8,1268.2 L1332.1,1269.1 L1337.4,1268.5 L1342.7,1269.8 L1348.0,1270.3 L1353.3,1269.6 L1358.6,1270.8 L1363.9,1269.9 L1369.1,1271.2 L1374.4,1270.7 L1379.7,1271.9 L1385.0,1271.4 L1390.3,1272.4 L1395.6,1271.4 L1400.9,1271.7 L1406.1,1273.0 L1411.4,1273.0 L1416.7,1273.1 L1422.0,1272.7 L1427.3,1273.1 L1432.6,1273.7 L1437.9,1273.5 L1443.2,1275.0 L1448.4,1274.8 L1453.7,1275.3 L1459.0,1275.1 L1464.3,1274.8 L1469.6,1274.6 L1474.9,1275.6 L1480.2,1274.9 L1485.4,1275.7 L1490.7,1275.7 L1496.0,1276.0 L1501.3,1275.5 L1506.6,1275.7 L1511.9,1276.5 L1517.2,1275.9 L1522.5,1276.9 L1527.7,1276.7 L1533.0,1277.1 L1538.3,1277.2 L1543.6,1278.1 L1548.9,1278.0 L1554.2,1278.0 L1559.5,1278.2 L1564.7,1278.9 L1570.0,1279.6 L1575.3,1279.1 L1580.6,1278.9 L1585.9,1279.3 L1591.2,1279.4 L1596.5,1280.1 L1601.8,1280.6 L1607.0,1280.5 L1612.3,1280.2 L1617.6,1280.6 L1622.9,1280.8 L1628.2,1281.1 L1633.5,1281.3 L1638.8,1282.3 L1644.0,1281.9 L1649.3,1282.2 L1654.6,1282.4 L1659.9,1282.5 L1665.2,1282.8 L1670.5,1282.4 L1675.8,1282.9 L1681.1,1283.5 L1686.3,1282.4 L1691.6,1283.2 L1696.9,1282.9 L1702.2,1282.6 L1707.5,1282.7 L1712.8,1283.8 L1718.1,1283.0 L1723.3,1284.0 L1728.6,1283.2 L1733.9,1283.8 L1739.2,1283.5 L1744.5,1284.4 L1749.8,1284.9 L1755.1,1284.3 L1760.4,1285.0 L1765.6,1285.7 L1770.9,1285.0 L1776.2,1285.4 L1781.5,1285.9"/>
<path stroke="#000080" d="M195.5,602.0 L200.8,545.0 L206.1,494.0 L211.4,478.7 L216.6,449.8 L221.9,462.4 L227.2,494.0 L232.5,530.5 L237.8,596.8 L243.1,653.0 L248.4,713.2 L253.7,766.3 L258.9,816.2 L264.2,852.0 L269.5,872.4 L274.8,888.8 L280.1,897.6 L285.4,906.4 L290.7,915.3 L295.9,926.9 L301.2,943.9 L306.5,961.5 L311.8,988.7 L317.1,1018.0 L322.4,1045.0 L327.7,1070.4 L333.0,1098.3 L338.2,1124.8 L343.5,1149.3 L348.8,1169.7 L354.1,1186.4 L359.4,1199.0 L364.7,1210.8 L370.0,1219.3 L375.2,1226.8 L380.5,1233.6 L385.8,1239.0 L391.1,1241.8 L396.4,1244.5 L401.7,1247.0 L407.0,1249.4 L412.3,1249.9 L417.5,1250.6 L422.8,1250.6 L428.1,1251.0 L433.4,1252.4 L438.7,1253.2 L444.0,1253.8 L449.3,1253.3 L454.5,1253.0 L459.8,1251.7 L465.1,1254.7 L470.4,1252.2 L475.7,1253.4 L481.0,1253.1 L486.3,1255.6 L491.6,1257.0 L496.8,1258.2 L502.1,1258.5 L507.4,1258.9 L512.7,1262.5 L518.0,1259.8 L523.3,1262.8 L528.6,1263.9 L533.8,1263.2 L539.1,1262.6 L544.4,1264.2 L549.7,1266.3 L555.0,1265.9 L560.3,1266.9 L565.6,1267.4 L570.9,1266.9 L576.1,1267.1 L581.4,1267.0 L586.7,1267.7 L592.0,1267.5 L597.3,1267.7 L602.6,1266.9 L607.9,1266.9 L613.1,1267.5 L618.4,1267.4 L623.7,1267.1 L629.0,1267.7 L634.3,1267.5 L639.6,1266.7 L644.9,1267.1 L650.2,1266.3 L655.4,1266.1 L660.7,1265.7 L666.0,1264.9 L671.3,1265.5 L676.6,1263.9 L681.9,1263.9 L687.2,1263.5 L692.4,1261.8 L697.7,1261.5 L703.0,1260.6 L708.3,1261.2 L713.6,1261.1 L718.9,1260.6 L724.2,1260.7 L729.5,1259.7 L734.7,1259.9 L740.0,1259.5 L745.3,1259.2 L750.6,1258.7 L755.9,1259.4 L761.2,1259.6 L766.5,1259.1 L771.7,1259.4 L777.0,1258.7 L782.3,1259.9 L787.6,1260.1 L792.9,1260.8 L798.2,1260.9 L803.5,1260.4 L808.8,1261.1 L814.0,1262.0 L819.3,1261.6 L824.6,1262.7 L829.9,1262.8 L835.2,1263.3 L840.5,1263.8 L845.8,1265.3 L851.0,1264.9 L856.3,1265.6 L861.6,1266.3 L866.9,1267.5 L872.2,1266.9 L877.5,1267.9 L882.8,1268.6 L888.1,1269.5 L893.3,1269.8 L898.6,1270.3 L903.9,1269.9 L909.2,1270.6 L914.5,1270.8 L919.8,1271.8 L925.1,1272.2 L930.3,1271.4 L935.6,1271.7 L940.9,1272.3 L946.2,1272.7 L951.5,1273.6 L956.8,1274.2 L962.1,1274.2 L967.4,1274.2 L972.6,1275.1 L977.9,1275.4 L983.2,1276.0 L988.5,1276.9 L993.8,1276.9 L999.1,1276.9 L1004.4,1277.4 L1009.6,1277.7 L1014.9,1277.2 L1020.2,1278.6 L1025.5,1278.7 L1030.8,1279.0 L1036.1,1279.2 L1041.4,1278.8 L1046.7,1279.0 L1051.9,1278.7 L1057.2,1279.6 L1062.5,1278.9 L1067.8,1279.1 L1073.1,1279.4 L1078.4,1279.4 L1083.7,1279.8 L1088.9,1279.5 L1094.2,1279.5 L1099.5,1279.8 L1104.8,1279.8 L1110.1,1280.2 L1115.4,1279.9 L1120.7,1281.1 L1126.0,1280.8 L1131.2,1280.3 L1136.5,1280.5 L1141.8,1280.7 L1147.1,1280.8 L1152.4,1280.6 L1157.7,1281.7 L1163.0,1282.0 L1168.2,1281.4 L1173.5,1281.5 L1178.8,1281.0 L1184.1,1281.1 L1189.4,1281.6 L1194.7,1281.6 L1200.0,1282.5 L1205.3,1281.6 L1210.5,1281.5 L1215.8,1282.8 L1221.1,1282.3 L1226.4,1281.8 L1231.7,1282.4 L1237.0,1281.7 L1242.3,1282.5 L1247.5,1283.1 L1252.8,1283.0 L1258.1,1282.8 L1263.4,1282.3 L1268.7,1282.5 L1274.0,1282.3 L1279.3,1283.2 L1284.6,1283.0 L1289.8,1283.4 L1295.1,1282.8 L1300.4,1282.7 L1305.7,1283.6 L1311.0,1284.0 L1316.3,1283.9 L1321.6,1284.0 L1326.8,1284.1 L1332.1,1284.1 L1337.4,1283.5 L1342.7,1284.0 L1348.0,1283.9 L1353.3,1283.5 L1358.6,1283.6 L1363.9,1284.1 L1369.1,1284.2 L1374.4,1284.9 L1379.7,1285.3 L1385.0,1284.7 L1390.3,1285.5 L1395.6,1285.7 L1400.9,1285.7 L1406.1,1285.0 L1411.4,1284.9 L1416.7,1285.0 L1422.0,1285.1 L1427.3,1285.2 L1432.6,1285.9 L1437.9,1286.4 L1443.2,1286.4 L1448.4,1286.0 L1453.7,1286.3 L1459.0,1286.6 L1464.3,1285.7 L1469.6,1286.6 L1474.9,1287.1 L1480.2,1287.0 L1485.4,1287.1 L1490.7,1286.8 L1496.0,1286.4 L1501.3,1287.4 L1506.6,1286.9 L1511.9,1287.6 L1517.2,1288.0 L1522.5,1287.2 L1527.7,1287.3 L1533.0,1288.1 L1538.3,1287.8 L1543.6,1287.1 L1548.9,1287.1 L1554.2,1287.2 L1559.5,1288.3 L1564.7,1288.2 L1570.0,1287.3 L1575.3,1288.3 L1580.6,1288.6 L1585.9,1288.1 L1591.2,1287.8 L1596.5,1288.1 L1601.8,1287.5 L1607.0,1287.4 L1612.3,1288.8 L1617.6,1288.4 L1622.9,1288.2 L1628.2,1288.8 L1633.5,1288.2 L1638.8,1288.8 L1644.0,1288.8 L1649.3,1287.9 L1654.6,1288.0 L1659.9,1288.1 L1665.2,1288.1 L1670.5,1288.6 L1675.8,1288.2 L1681.1,1288.4 L1686.3,1288.0 L1691.6,1289.2 L1696.9,1288.4 L1702.2,1288.6 L1707.5,1288.8 L1712.8,1289.3 L1718.1,1288.6 L1723.3,1289.4 L1728.6,1288.8 L1733.9,1288.9 L1739.2,1288.9 L1744.5,1288.2 L1749.8,1288.9 L1755.1,1288.6 L1760.4,1288.3 L1765.6,1289.5 L1770.9,1288.7 L1776.2,1289.1 L1781.5,1289.5"/>
</g>
<text class="tick" transform="translate(195.5,1393) scale(0.985,1)">200</text>
<text class="tick" transform="translate(459.8,1393) scale(0.985,1)">300</text>
<text class="tick" transform="translate(724.2,1393) scale(0.985,1)">400</text>
<text class="tick" transform="translate(988.5,1393) scale(0.985,1)">500</text>
<text class="tick" transform="translate(1252.8,1393) scale(0.985,1)">600</text>
<text class="tick" transform="translate(1517.2,1393) scale(0.985,1)">700</text>
<text class="tick" transform="translate(1781.5,1393) scale(0.985,1)">800</text>
<g stroke-width="9" fill="none">
<path stroke="#000000" d="M695,224.0 H827.5"/>
<path stroke="#ff0000" d="M695,296.3 H827.5"/>
<path stroke="#0000ff" d="M695,388.4 H827.5"/>
<path stroke="#008080" d="M695,480.8 H827.5"/>
<path stroke="#ff00ff" d="M695,572.8 H827.5"/>
<path stroke="#808000" d="M695,665.2 H827.5"/>
<path stroke="#000080" d="M695,757.6 H827.5"/>
</g>
<text class="leg" transform="translate(843.2,244.4) scale(1,1.012)">Propolois extract(pure)</text>
<text class="leg" transform="translate(843.2,317.0) scale(1,1.012)">PdCl<tspan class="sub" dy="21.5">2</tspan><tspan dy="-21.5">:Propolois extract(2mL:8mL)</tspan></text>
<text class="leg" transform="translate(843.2,409.3) scale(1,1.012)">PdCl<tspan class="sub" dy="21.5">2</tspan><tspan dy="-21.5">:Propolois extract(4mL:6mL)</tspan></text>
<text class="leg" transform="translate(843.2,501.4) scale(1,1.012)">PdCl<tspan class="sub" dy="21.5">2</tspan><tspan dy="-21.5">:Propolois extract(5mL:5mL)</tspan></text>
<text class="leg" transform="translate(843.2,593.7) scale(1,1.012)">PdCl<tspan class="sub" dy="21.5">2</tspan><tspan dy="-21.5">:Propolois extract(6mL:4mL)</tspan></text>
<text class="leg" transform="translate(843.2,686.0) scale(1,1.012)">PdCl<tspan class="sub" dy="21.5">2</tspan><tspan dy="-21.5">:Propolois extract(8mL:2mL)</tspan></text>
<text class="leg" transform="translate(843.2,778.0) scale(1,1.012)">PdCl<tspan class="sub" dy="21.5">2</tspan><tspan dy="-21.5">(pure)</tspan></text>
<text class="ttl" id="xt" x="701.0" y="1509.0" style="font-size:74.5px;font-kerning:none;white-space:pre;" xml:space="preserve">Wavelength,   <tspan dx="16.0">nm</tspan></text>
<text class="ttl" id="yt" transform="translate(73.0,964.0) rotate(-90)" style="font-kerning:none;white-space:pre;" xml:space="preserve">Absorbance,   <tspan dx="12.0" style="font-size:82px">%</tspan></text>
</svg>
</body></html>
